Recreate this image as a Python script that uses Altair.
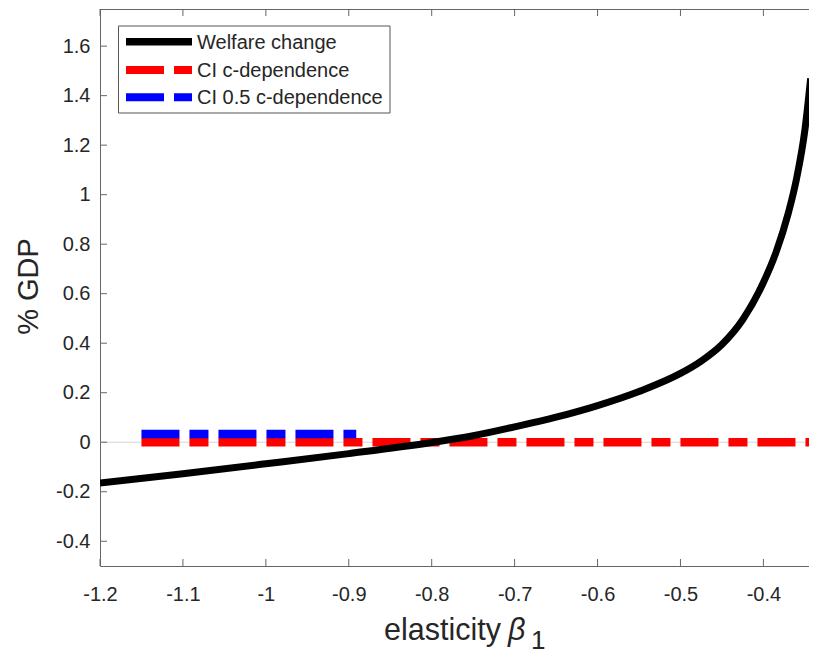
import altair as alt
import pandas as pd

# ---------------- data ----------------
beta = [-1.2, -1.1, -1.0, -0.9, -0.8, -0.75, -0.7, -0.65, -0.6, -0.55, -0.5,
        -0.475, -0.45, -0.425, -0.4, -0.385, -0.37, -0.36, -0.35, -0.343]
welfare = [-0.165, -0.127, -0.087, -0.046, -0.001, 0.026, 0.062, 0.101, 0.148, 0.205, 0.278,
           0.328, 0.395, 0.495, 0.645, 0.765, 0.925, 1.065, 1.26, 1.47]

series_names = ["Welfare change", "CI c-dependence", "CI 0.5 c-dependence"]
series_colors = ["#000000", "#ff0000", "#0000ff"]

ci_start = -1.15
ci_blue_end = -0.891
ci_red_level = 0.0
ci_blue_level = 0.033

x_min, x_max = -1.2, -0.345
y_min, y_max = -0.5, 1.75
x_ticks = [-1.2, -1.1, -1.0, -0.9, -0.8, -0.7, -0.6, -0.5, -0.4]
y_ticks = [-0.4, -0.2, 0.0, 0.2, 0.4, 0.6, 0.8, 1.0, 1.2, 1.4, 1.6]

x_title_parts = ["elasticity", "\u03b2", "1"]
y_title = "% GDP"

# ---------------- styling ----------------
W, H = 709, 557
FONT = "Liberation Sans"
AX = "#666666"
TXT = "#262626"
DASH = [38, 10, 19, 10]
LABEL_EXPR = "replace(format(datum.value, '.1~f'), '\u2212', '-')"

xs = alt.Scale(domain=[x_min, x_max], nice=False, zero=False)
ys = alt.Scale(domain=[y_min, y_max], nice=False, zero=False)

x_axis = alt.Axis(values=x_ticks, labelExpr=LABEL_EXPR, ticks=False, tickSize=0,
                  labelPadding=18, labelFontSize=20, labelFont=FONT, labelColor=TXT,
                  domainColor=AX, domainWidth=1, grid=False, title=None,
                  labelFlush=False, labelOverlap=False)
y_axis = alt.Axis(values=y_ticks, labelExpr=LABEL_EXPR, ticks=False, tickSize=0,
                  labelPadding=10, labelFontSize=20, labelFont=FONT, labelColor=TXT,
                  domainColor=AX, domainWidth=1, grid=False, title=y_title,
                  titleFont=FONT, titleFontSize=29, titleFontWeight="normal",
                  titleColor=TXT, titleAngle=270, titleX=-62.7, titleY=277,
                  titleBaseline="alphabetic", titleAlign="center",
                  labelOverlap=False)

X = alt.X("x:Q", scale=xs, axis=x_axis)
Y = alt.Y("y:Q", scale=ys, axis=y_axis)

one = pd.DataFrame({"d": [0]})
curve_df = pd.DataFrame({"x": beta, "y": welfare})
red_df = pd.DataFrame({"x": [ci_start, x_max], "y": [ci_red_level, ci_red_level]})
blue_df = pd.DataFrame({"x": [ci_start, ci_blue_end], "y": [ci_blue_level, ci_blue_level]})
xt_df = pd.DataFrame({"x": x_ticks})
yt_df = pd.DataFrame({"y": y_ticks})
zero_df = pd.DataFrame({"y": [0.0]})

zero_line = alt.Chart(zero_df).mark_rule(color="#d4d4d4", strokeWidth=1).encode(y=Y)

red_line = alt.Chart(red_df).mark_line(
    color=series_colors[1], strokeWidth=8.5, strokeDash=DASH, strokeCap="butt", clip=True
).encode(x=X, y=Y)

blue_line = alt.Chart(blue_df).mark_line(
    color=series_colors[2], strokeWidth=8.5, strokeDash=DASH, strokeCap="butt", clip=True
).encode(x=X, y=Y)

curve = alt.Chart(curve_df).mark_line(
    color=series_colors[0], strokeWidth=7, interpolate="monotone", clip=True
).encode(x=X, y=Y)

# inward ticks and top border (MATLAB box style)
bottom_ticks = alt.Chart(xt_df).mark_rule(color=AX, strokeWidth=1).encode(
    x=X, y=alt.value(H), y2=alt.value(H - 7))
top_ticks = alt.Chart(xt_df).mark_rule(color=AX, strokeWidth=1).encode(
    x=X, y=alt.value(0), y2=alt.value(7))
left_ticks = alt.Chart(yt_df).mark_rule(color=AX, strokeWidth=1).encode(
    y=Y, x=alt.value(0), x2=alt.value(7))
top_border = alt.Chart(one).mark_rule(color=AX, strokeWidth=1).encode(
    x=alt.value(0), x2=alt.value(W), y=alt.value(0.5))

# legend
legend_box = alt.Chart(one).mark_rect(fill="white", stroke="#555555", strokeWidth=1).encode(
    x=alt.value(18.5), x2=alt.value(290), y=alt.value(17), y2=alt.value(104))
legend_rows = [32.7, 61, 88.3]
legend_layers = []
for i, (name, col) in enumerate(zip(series_names, series_colors)):
    kw = dict(color=col, strokeWidth=8 if i else 7.5, strokeCap="butt")
    if i:
        kw["strokeDash"] = DASH
    legend_layers.append(alt.Chart(one).mark_rule(**kw).encode(
        x=alt.value(26), x2=alt.value(92), y=alt.value(legend_rows[i])))
    legend_layers.append(alt.Chart(one).mark_text(
        align="left", baseline="middle", font=FONT, fontSize=20, color=TXT, text=name
    ).encode(x=alt.value(97), y=alt.value(legend_rows[i] + 1)))

# x title with italic beta and subscript
xt1 = alt.Chart(one).mark_text(align="left", baseline="alphabetic", font=FONT, fontSize=30.5,
                               color=TXT, text=x_title_parts[0]).encode(
    x=alt.value(284), y=alt.value(630.5))
xt2 = alt.Chart(one).mark_text(align="left", baseline="alphabetic", font=FONT, fontSize=30.5,
                               fontStyle="italic", color=TXT, text=x_title_parts[1]).encode(
    x=alt.value(408), y=alt.value(630.5))
xt3 = alt.Chart(one).mark_text(align="left", baseline="alphabetic", font=FONT, fontSize=26,
                               color=TXT, text=x_title_parts[2]).encode(
    x=alt.value(431), y=alt.value(640))

chart = alt.layer(
    zero_line, red_line, blue_line, curve,
    bottom_ticks, top_ticks, left_ticks, top_border,
    legend_box, *legend_layers, xt1, xt2, xt3
).properties(
    width=W, height=H,
    autosize=alt.AutoSizeParams(type="none"),
    padding={"left": 92, "top": 1, "right": 0, "bottom": 90},
    background="white",
).configure_view(stroke=None)

chart.save("out.html", embed_options={"renderer": "svg", "actions": False})
